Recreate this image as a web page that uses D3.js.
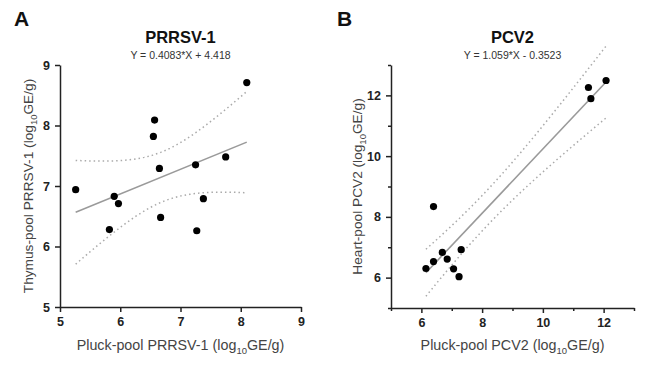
<!DOCTYPE html>
<html>
<head>
<meta charset="utf-8">
<script src="https://cdn.jsdelivr.net/npm/d3@7"></script>
<style>
  body { margin: 0; background: #fff; }
  text { font-family: "Liberation Sans", Arial, sans-serif; }
</style>
</head>
<body>
<svg id="chart" width="650" height="366"></svg>
<script>
// PRRSV-1 panel (A)
const prrsvPluck  = [5.26, 5.82, 5.90, 5.97, 6.57, 6.55, 6.65, 6.67, 7.25, 7.27, 7.38, 7.75, 8.10];
const prrsvThymus = [6.94, 6.28, 6.83, 6.71, 8.09, 7.82, 7.29, 6.48, 7.35, 6.26, 6.79, 7.48, 8.71];
const prrsvFit = { slope: 0.4083, intercept: 4.418 };
const prrsvTicks = [5, 6, 7, 8, 9];

// PCV2 panel (B)
const pcvPluck = [6.15, 6.40, 6.69, 6.85, 7.06, 7.24, 7.31, 6.40, 11.50, 11.58, 12.08];
const pcvHeart = [6.30, 6.53, 6.83, 6.61, 6.29, 6.03, 6.92, 8.34, 12.26, 11.89, 12.49];
const pcvFit = { slope: 1.059, intercept: -0.3523 };
const pcvTicks = [5, 6, 7, 8, 9, 10, 11, 12, 13];
const pcvLabelled = [6, 8, 10, 12];

// two-sided 95% t values by degrees of freedom
const tCrit = { 9: 2.262, 11: 2.201 };

const svg = d3.select('#chart');

function labelWithSub(sel, pre) {
  sel.append('tspan').text(pre + ' (log');
  sel.append('tspan').style('font-size', '9.5px').attr('dy', 3.5).text('10');
  sel.append('tspan').attr('dy', -3.5).text('GE/g)');
}

function drawPanel(p) {
  const g = svg.append('g');
  const x = d3.scaleLinear().domain(p.domain).range([p.left, p.right]);
  const y = d3.scaleLinear().domain(p.domain).range([p.bottom, p.top]);

  // panel letter and titles
  g.append('text').attr('x', p.letterX).attr('y', 26)
    .style('font-size', '21px').style('font-weight', 'bold').style('fill', '#111')
    .text(p.letter);
  const cx = (p.left + p.right) / 2;
  g.append('text').attr('x', cx).attr('y', 43).attr('text-anchor', 'middle')
    .style('font-size', '16.5px').style('font-weight', 'bold').style('fill', '#111')
    .text(p.title);
  g.append('text').attr('x', cx).attr('y', 58.5).attr('text-anchor', 'middle')
    .style('font-size', '10.5px').style('fill', '#333')
    .text(p.equation);

  // axes
  const fmt = d => (p.labelled.includes(d) ? d : '');
  const xAxis = g.append('g').attr('transform', `translate(0,${p.bottom})`)
    .call(d3.axisBottom(x).tickValues(p.ticks).tickFormat(fmt).tickSizeOuter(0).tickPadding(5));
  const yAxis = g.append('g').attr('transform', `translate(${p.left},0)`)
    .call(d3.axisLeft(y).tickValues(p.ticks).tickFormat(fmt).tickSizeOuter(0).tickPadding(4));

  xAxis.selectAll('.tick line').attr('y2', d => (p.labelled.includes(d) ? 5 : 3));
  yAxis.selectAll('.tick line').attr('x2', d => (p.labelled.includes(d) ? -5 : -3));
  [xAxis, yAxis].forEach(a => {
    a.selectAll('.domain, .tick line')
      .style('stroke', '#222').style('stroke-width', '1.5px');
    a.selectAll('.tick text').style('font-size', '12.5px').style('font-weight', 'bold')
      .style('fill', '#222');
  });
  xAxis.selectAll('.tick text').attr('y', 10);

  // axis titles
  labelWithSub(g.append('text').attr('x', cx).attr('y', 350).attr('text-anchor', 'middle')
    .style('font-size', '14.3px').style('fill', '#444'), p.xLabel);
  labelWithSub(g.append('text')
    .attr('transform', `translate(${p.yLabelX},${(p.top + p.bottom) / 2}) rotate(-90)`)
    .attr('text-anchor', 'middle')
    .style('font-size', '13.7px').style('fill', '#444'), p.yLabel);

  // regression fit and 95% confidence band
  const n = p.xs.length;
  const mx = d3.mean(p.xs);
  const sxx = d3.sum(p.xs, v => (v - mx) ** 2);
  const fit = v => p.fit.slope * v + p.fit.intercept;
  const sse = d3.sum(p.xs, (v, i) => (p.ys[i] - fit(v)) ** 2);
  const s = Math.sqrt(sse / (n - 2));
  const t = tCrit[n - 2];
  const [x0, x1] = d3.extent(p.xs);
  const grid = d3.range(0, 61).map(i => x0 + (x1 - x0) * i / 60);
  const half = v => t * s * Math.sqrt(1 / n + (v - mx) ** 2 / sxx);
  const line = d3.line().x(d => x(d[0])).y(d => y(d[1]));

  [1, -1].forEach(sign => {
    g.append('path')
      .attr('d', line(grid.map(v => [v, fit(v) + sign * half(v)])))
      .attr('fill', 'none').attr('stroke', '#aaa').attr('stroke-width', 1.5)
      .attr('stroke-dasharray', '1.5,3');
  });
  g.append('path')
    .attr('d', line([[x0, fit(x0)], [x1, fit(x1)]]))
    .attr('fill', 'none').attr('stroke', '#9a9a9a').attr('stroke-width', 1.6);

  // points
  g.selectAll('circle.pt')
    .data(p.xs.map((v, i) => [v, p.ys[i]]))
    .join('circle')
    .attr('class', 'pt')
    .attr('cx', d => x(d[0]))
    .attr('cy', d => y(d[1]))
    .attr('r', 3.6)
    .attr('fill', '#000');
}

drawPanel({
  letter: 'A', letterX: 14, title: 'PRRSV-1', equation: 'Y = 0.4083*X + 4.418',
  xs: prrsvPluck, ys: prrsvThymus, fit: prrsvFit,
  domain: [5, 9], ticks: prrsvTicks, labelled: prrsvTicks,
  left: 60, right: 301, top: 65, bottom: 307,
  xLabel: 'Pluck-pool PRRSV-1', yLabel: 'Thymus-pool PRRSV-1', yLabelX: 33
});

drawPanel({
  letter: 'B', letterX: 337, title: 'PCV2', equation: 'Y = 1.059*X - 0.3523',
  xs: pcvPluck, ys: pcvHeart, fit: pcvFit,
  domain: [5, 13], ticks: pcvTicks, labelled: pcvLabelled,
  left: 391, right: 634, top: 65, bottom: 308,
  xLabel: 'Pluck-pool PCV2', yLabel: 'Heart-pool PCV2', yLabelX: 362
});
</script>
</body>
</html>
